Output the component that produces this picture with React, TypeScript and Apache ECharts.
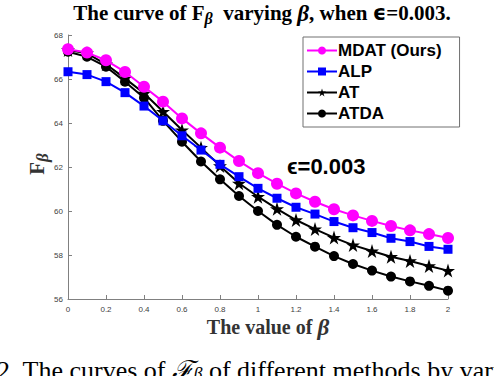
import React, { useEffect, useRef } from "react";
import * as echarts from "echarts";

const betas = [0, 0.1, 0.2, 0.3, 0.4, 0.5, 0.6, 0.7, 0.8, 0.9, 1.0, 1.1, 1.2, 1.3, 1.4, 1.5, 1.6, 1.7, 1.8, 1.9, 2.0];
const mdat = [67.35, 67.2, 66.85, 66.32, 65.65, 64.97, 64.21, 63.53, 62.88, 62.27, 61.72, 61.24, 60.8, 60.42, 60.08, 59.8, 59.55, 59.32, 59.12, 58.95, 58.77];
const alp = [66.33, 66.2, 65.88, 65.38, 64.77, 64.1, 63.42, 62.77, 62.12, 61.56, 61.03, 60.58, 60.17, 59.86, 59.52, 59.24, 59.02, 58.76, 58.61, 58.39, 58.26];
const at = [67.32, 67.17, 66.67, 66.03, 65.35, 64.52, 63.68, 62.88, 62.05, 61.26, 60.65, 60.1, 59.59, 59.18, 58.79, 58.45, 58.18, 57.92, 57.73, 57.5, 57.29];
const atda = [67.24, 67.01, 66.56, 65.88, 65.15, 64.1, 63.15, 62.25, 61.44, 60.68, 60.0, 59.37, 58.83, 58.38, 57.95, 57.59, 57.29, 57.02, 56.8, 56.6, 56.38];

const seriesNames = ["MDAT (Ours)", "ALP", "AT", "ATDA"];
const seriesColors = ["#ff00ff", "#0000ff", "#000000", "#000000"];

const STAR =
  "path://M50,0L61.23,34.55L97.55,34.55L68.16,55.9L79.39,90.45L50,69.1L20.61,90.45L31.84,55.9L2.45,34.55L38.77,34.55Z";

const pairs = (ys: number[]) => betas.map((b, i) => [b, ys[i]]);

export default function App() {
  const ref = useRef<HTMLDivElement>(null);
  useEffect(() => {
    const chart = echarts.init(ref.current!, null, { renderer: "svg" });
    const serif = "'Liberation Serif', 'Times New Roman', serif";
    const sans = "'Liberation Sans', Arial, sans-serif";
    const mk = (
      name: string,
      data: number[],
      color: string,
      symbol: string,
      size: number,
      z: number
    ) => ({
      name,
      type: "line",
      data: pairs(data),
      symbol,
      symbolSize: size,
      showAllSymbol: true,
      z,
      lineStyle: { color, width: 2 },
      itemStyle: { color, borderWidth: 0 },
      emphasis: { disabled: true },
    });
    chart.setOption({
      animation: false,
      backgroundColor: "#ffffff",
      grid: { left: 68, right: 46, top: 35, bottom: 77 },
      xAxis: {
        type: "value",
        min: 0,
        max: 2,
        interval: 0.2,
        axisLine: { show: true, lineStyle: { color: "#808080", width: 1 } },
        axisTick: { show: true, inside: true, length: 4, lineStyle: { color: "#808080" } },
        axisLabel: { color: "#404040", fontSize: 8, fontFamily: sans, margin: 6 },
        splitLine: { show: false },
      },
      yAxis: {
        type: "value",
        min: 56,
        max: 68,
        interval: 2,
        axisLine: { show: true, lineStyle: { color: "#808080", width: 1 } },
        axisTick: { show: true, inside: true, length: 4, lineStyle: { color: "#808080" } },
        axisLabel: { color: "#404040", fontSize: 8, fontFamily: sans, margin: 5 },
        splitLine: { show: false },
      },
      legend: {
        orient: "vertical",
        left: 303,
        top: 37,
        data: seriesNames,
        itemWidth: 30,
        itemHeight: 10,
        itemGap: 4,
        padding: [5, 18, 5, 3],
        borderColor: "#707070",
        borderWidth: 1,
        backgroundColor: "#ffffff",
        textStyle: { fontFamily: sans, fontWeight: "bold", fontSize: 17, color: "#000", padding: [0, 0, 0, -4] },
      },
      series: [
        mk(seriesNames[0], mdat, seriesColors[0], "circle", 12, 5),
        mk(seriesNames[1], alp, seriesColors[1], "rect", 9, 4),
        mk(seriesNames[2], at, seriesColors[2], STAR, 14, 3),
        mk(seriesNames[3], atda, seriesColors[3], "circle", 10, 2),
      ],
      graphic: [
        {
          type: "text",
          x: 262,
          y: 13,
          style: {
            text: "The curve of {f|F}{sub|β}  varying {b|β}, when {e|ϵ}=0.003.",
            font: `bold 21px ${serif}`,
            fill: "#000",
            align: "center",
            verticalAlign: "middle",
            rich: {
              f: { font: `bold 21px ${serif}`, fill: "#000" },
              sub: { font: `italic bold 16px ${serif}`, fill: "#000", padding: [10, 0, 0, 0] },
              b: { font: `italic bold 23px ${serif}`, fill: "#000" },
              e: { font: `bold 21px 'DejaVu Sans', sans-serif`, fill: "#000" },
            },
          },
        },
        {
          type: "text",
          x: 268,
          y: 327,
          style: {
            text: "The value of {b|β}",
            font: `bold 20px ${serif}`,
            fill: "#333",
            align: "center",
            verticalAlign: "middle",
            rich: {
              b: { font: `italic bold 23px ${serif}`, fill: "#333" },
            },
          },
        },
        {
          type: "text",
          x: 37,
          y: 164,
          rotation: Math.PI / 2,
          style: {
            text: "F{sub|β}",
            font: `bold 21px ${serif}`,
            fill: "#333",
            align: "center",
            verticalAlign: "middle",
            rich: {
              sub: { font: `italic bold 17px ${serif}`, fill: "#333", padding: [10, 0, 0, 0] },
            },
          },
        },
        {
          type: "text",
          x: 287,
          y: 166,
          style: {
            text: "ϵ=0.003",
            font: `bold 22px ${sans}`,
            fill: "#000",
            align: "left",
            verticalAlign: "middle",
          },
        },
        {
          type: "text",
          x: -3,
          y: 370,
          style: {
            text: "2. The curves of {f|ℱ}{sub|β} of different methods by varying",
            font: `26px ${serif}`,
            fill: "#000",
            align: "left",
            verticalAlign: "middle",
            rich: {
              f: { font: `italic 26px ${serif}`, fill: "#000" },
              sub: { font: `italic 18px ${serif}`, fill: "#000", padding: [8, 0, 0, 0] },
            },
          },
        },
      ],
    });
    return () => chart.dispose();
  }, []);
  return <div ref={ref} style={{ position: "absolute", left: 0, top: 0, width: 494, height: 376 }} />;
}
